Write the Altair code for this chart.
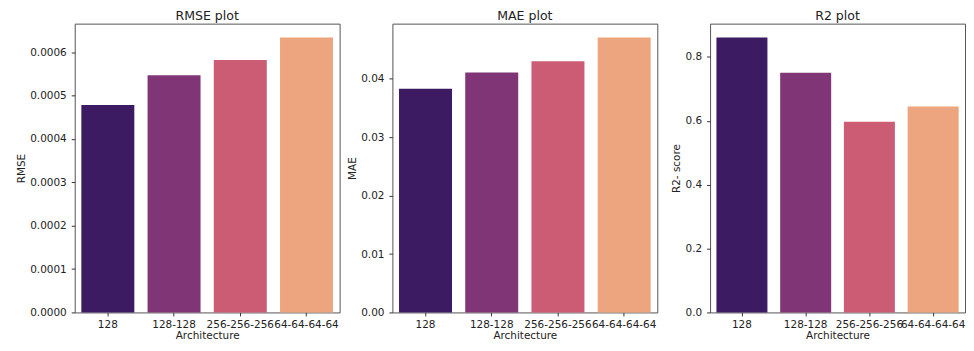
import altair as alt
import pandas as pd

architectures = ["128", "128-128", "256-256-256", "64-64-64-64"]
rmse = [0.000478, 0.000547, 0.000582, 0.000634]
mae = [0.0383, 0.0411, 0.0430, 0.0471]
r2 = [0.861, 0.750, 0.597, 0.645]
colors = ["#3c1b63", "#803577", "#cb5c73", "#eca57f"]

FONT = "DejaVu Sans"


def panel(values, title, ytitle, ticks, fmt, width):
    df = pd.DataFrame({"Architecture": architectures, "value": values})
    top = max(values) * 1.05
    return (
        alt.Chart(df, title=title)
        .mark_bar()
        .encode(
            x=alt.X(
                "Architecture:N",
                sort=architectures,
                title="Architecture",
                scale=alt.Scale(paddingInner=0.2, paddingOuter=0.1),
                axis=alt.Axis(labelAngle=0, labelPadding=4, titlePadding=0,
                              labelBound=False, labelOverlap=False),
            ),
            y=alt.Y(
                "value:Q",
                title=ytitle,
                scale=alt.Scale(domain=[0, top], nice=False, zero=True),
                axis=alt.Axis(values=ticks, format=fmt, labelPadding=5, titlePadding=3),
            ),
            color=alt.Color(
                "Architecture:N",
                sort=architectures,
                scale=alt.Scale(domain=architectures, range=colors),
                legend=None,
            ),
        )
        .properties(width=width, height=290)
    )


p1 = panel(rmse, "RMSE plot", "RMSE",
           [0, 0.0001, 0.0002, 0.0003, 0.0004, 0.0005, 0.0006], ".4f", 266)
p2 = panel(mae, "MAE plot", "MAE", [0, 0.01, 0.02, 0.03, 0.04], ".2f", 266)
p3 = panel(r2, "R2 plot", "R2- score", [0, 0.2, 0.4, 0.6, 0.8], ".1f", 256)

chart = (
    alt.hconcat(p1, p2, p3, spacing=53, bounds="flush")
    .properties(padding={"left": 8, "top": 0, "right": 0, "bottom": 0})
    .configure_view(stroke="#555555", strokeWidth=1)
    .configure_axis(
        domain=False,
        grid=False,
        ticks=True,
        tickSize=3.5,
        tickColor="#333333",
        labelFont=FONT,
        labelFontSize=10.5,
        labelColor="#222222",
        titleFont=FONT,
        titleFontSize=10.5,
        titleFontWeight="normal",
        titleColor="#222222",
    )
    .configure_title(font=FONT, fontSize=12.6, fontWeight="normal",
                     color="#222222", offset=1.5, anchor="middle")
)

chart.save("out.html", embed_options={"renderer": "svg", "actions": False})
